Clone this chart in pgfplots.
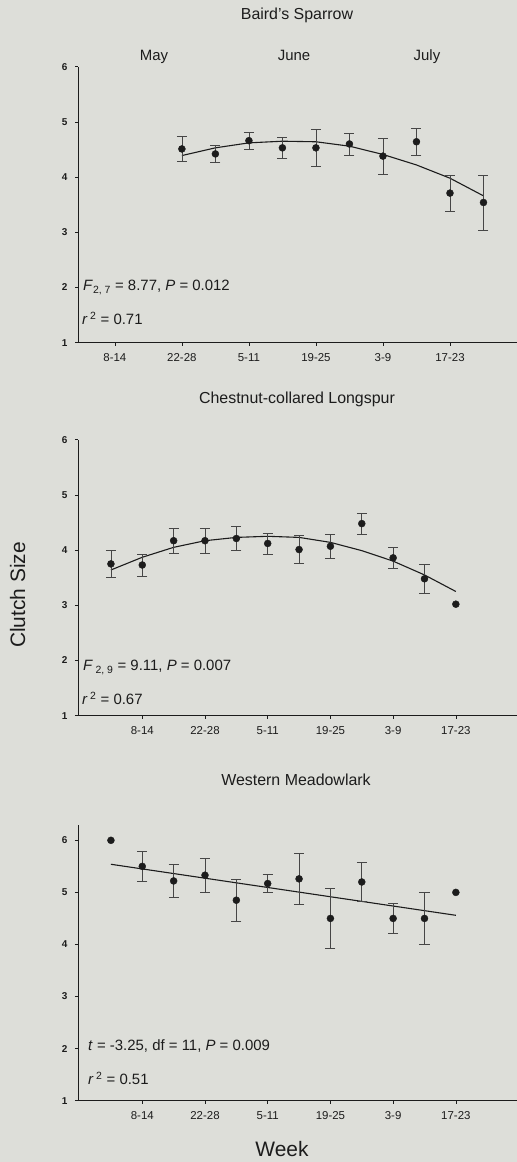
\documentclass[border=0pt]{standalone}
\usepackage{fontspec}
\setmainfont{Liberation Sans}
\usepackage{pgfplots}
\pgfplotsset{compat=1.18}

\definecolor{paper}{RGB}{221,222,217}
\definecolor{ink}{RGB}{28,28,28}
\definecolor{bar}{RGB}{70,70,70}

\pgfplotsset{
  clutch/.style={
    scale only axis, width=439bp, height=276bp,
    anchor=south west,
    axis x line*=bottom, axis y line*=left,
    axis line style={ink, line width=0.8bp, -},
    ymin=1, ymax=6, ytick={1,...,6},
    xtick={2,4,...,12},
    xticklabels={8-14,22-28,5-11,19-25,3-9,17-23},
    tick align=outside, major tick length=3bp,
    tick style={ink, line width=0.6bp},
    /pgf/number format/assume math mode=true,
    x tick label style={font=\fontsize{11.5}{12}\selectfont, text=ink, yshift=-4bp},
    y tick label style={font=\fontsize{10}{11}\selectfont\bfseries, text=ink, xshift=-4bp},
    clip=false,
  },
  dots/.style={only marks, mark=*, mark size=3.5bp,
    mark options={fill=ink, draw=ink},
    error bars/.cd, y dir=both, y explicit, error mark=|,
    error bar style={line width=0.6bp, bar},
    error mark options={mark size=5bp, line width=0.6bp, bar}},
  lone/.style={only marks, mark=*, mark size=3.5bp,
    mark options={fill=ink, draw=ink}},
  fit/.style={ink, line width=1.1bp, mark=none},
}

\newcommand{\annot}{\fontsize{15}{16}\selectfont}

\begin{document}
\begin{tikzpicture}
\fill[paper] (0,0) rectangle (517bp,1162bp);
\useasboundingbox (0,0) rectangle (517bp,1162bp);

% Baird's Sparrow
\begin{axis}[clutch, at={(78bp,819.3bp)}, xmin=0.9, xmax=14]
\addplot[fit] coordinates {(4,4.39) (5,4.53) (6,4.62) (7,4.65) (8,4.64)
  (9,4.56) (10,4.41) (11,4.22) (12,3.98) (13,3.66)};
\addplot[dots] coordinates {
  (4,4.51) +- (0,0.22)
  (5,4.42) +- (0,0.155)
  (6,4.66) +- (0,0.15)
  (7,4.53) +- (0,0.19)
  (8,4.53) +- (0,0.33)
  (9,4.60) +- (0,0.20)
  (10,4.38) +- (0,0.33)
  (11,4.64) +- (0,0.25)
  (12,3.71) +- (0,0.33)
  (13,3.54) +- (0,0.50)};
\end{axis}

% Chestnut-collared Longspur
\begin{axis}[clutch, at={(78bp,446.3bp)}, xmin=-0.05, xmax=13.95]
\addplot[fit] coordinates {(1,3.64) (2,3.87) (3,4.05) (4,4.17) (5,4.23)
  (6,4.25) (7,4.23) (8,4.14) (9,3.99) (10,3.80) (11,3.55) (12,3.25)};
\addplot[dots] coordinates {
  (1,3.75) +- (0,0.25)
  (2,3.73) +- (0,0.20)
  (3,4.17) +- (0,0.22)
  (4,4.17) +- (0,0.22)
  (5,4.21) +- (0,0.22)
  (6,4.12) +- (0,0.19)
  (7,4.01) +- (0,0.25)
  (8,4.07) +- (0,0.22)
  (9,4.48) +- (0,0.19)
  (10,3.86) +- (0,0.19)
  (11,3.48) +- (0,0.27)};
\addplot[lone] coordinates {(12,3.02)};
\end{axis}

% Western Meadowlark
\begin{axis}[clutch, at={(78bp,61.3bp)}, xmin=-0.05, xmax=13.95, ymax=6.3]
\addplot[fit] coordinates {(1,5.54) (12,4.56)};
\addplot[dots] coordinates {
  (2,5.50) +- (0,0.29)
  (3,5.22) +- (0,0.32)
  (4,5.33) +- (0,0.33)
  (5,4.85) +- (0,0.41)
  (6,5.17) +- (0,0.17)
  (7,5.26) +- (0,0.49)
  (8,4.50) +- (0,0.57)
  (9,5.20) +- (0,0.37)
  (10,4.50) +- (0,0.29)
  (11,4.50) +- (0,0.50)};
\addplot[lone] coordinates {(1,6.00) (12,5.00)};
\end{axis}

% titles and labels
\begin{scope}[every node/.style={text=ink, inner sep=0pt}]
\node[anchor=base, font=\fontsize{16}{17}\selectfont] at (297bp,1142.7bp) {Baird's Sparrow};
\node[anchor=base, font=\fontsize{16}{17}\selectfont] at (297bp,758.7bp) {Chestnut-collared Longspur};
\node[anchor=base, font=\fontsize{16}{17}\selectfont] at (296bp,376bp) {Western Meadowlark};
\node[anchor=base, font=\annot] at (154bp,1101.5bp) {May};
\node[anchor=base, font=\annot] at (294bp,1101.5bp) {June};
\node[anchor=base, font=\annot] at (427bp,1101.5bp) {July};
\node[anchor=base, rotate=90, font=\fontsize{21}{22}\selectfont] at (25bp,567bp) {Clutch Size};
\node[anchor=base, font=\fontsize{21}{22}\selectfont] at (282bp,6bp) {Week};
\node[anchor=base west, font=\annot] at (83bp,871bp) {\textit{F}\textsubscript{2, 7} = 8.77, \textit{P} = 0.012};
\node[anchor=base west, font=\annot] at (82bp,837bp) {\textit{r}\,\textsuperscript{2} = 0.71};
\node[anchor=base west, font=\annot] at (83bp,491bp) {\textit{F}\,\textsubscript{2, 9} = 9.11, \textit{P} = 0.007};
\node[anchor=base west, font=\annot] at (82bp,457bp) {\textit{r}\,\textsuperscript{2} = 0.67};
\node[anchor=base west, font=\annot] at (88bp,111bp) {\textit{t} = -3.25, df = 11, \textit{P} = 0.009};
\node[anchor=base west, font=\annot] at (88bp,77bp) {\textit{r}\,\textsuperscript{2} = 0.51};
\end{scope}
\end{tikzpicture}
\end{document}
